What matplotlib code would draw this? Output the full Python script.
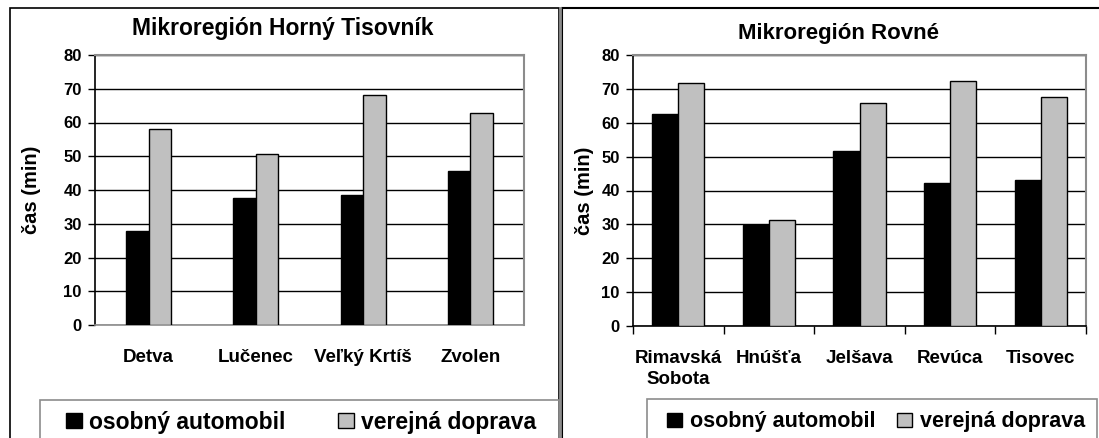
import numpy as np
import matplotlib
matplotlib.use("Agg")
import matplotlib.pyplot as plt
from matplotlib.patches import Rectangle
from matplotlib.lines import Line2D

plt.rcParams['font.family'] = ['Liberation Sans', 'DejaVu Sans']
plt.rcParams['font.weight'] = 'bold'

# data
left_title = 'Mikroregión Horný Tisovník'
left_towns = ['Detva', 'Lučenec', 'Veľký Krtíš', 'Zvolen']
left_car = [28.0, 37.5, 38.5, 45.5]
left_bus = [58.2, 50.6, 68.2, 62.9]

right_title = 'Mikroregión Rovné'
right_towns = ['Rimavská\nSobota', 'Hnúšťa', 'Jelšava', 'Revúca', 'Tisovec']
right_car = [62.5, 29.9, 51.6, 42.2, 43.2]
right_bus = [71.8, 31.2, 65.8, 72.4, 67.6]

series = ['osobný automobil', 'verejná doprava']
yticks = [0, 10, 20, 30, 40, 50, 60, 70, 80]

W, H = 1099, 438
GRAY = '#c0c0c0'
EDGE = '#8c8c8c'


def fx(x):
    return x / W


def fy(y):
    return 1 - y / H


def box(fig, x0, y0, x1, y1, color, lw):
    fig.patches.append(Rectangle((fx(x0), fy(y1)), (x1 - x0) / W, (y1 - y0) / H,
                                 fill=False, edgecolor=color, lw=lw,
                                 transform=fig.transFigure, figure=fig))


def draw_chart(ax, towns, car, bus, width, boundary_ticks):
    x = np.arange(len(towns))
    b1 = ax.bar(x - width / 2, car, width, color='black', edgecolor='black', lw=1, zorder=3)
    b2 = ax.bar(x + width / 2, bus, width, color=GRAY, edgecolor='black', lw=1, zorder=3)
    ax.set_ylim(0, 80)
    ax.set_yticks(yticks)
    ax.set_xlim(-0.5, len(towns) - 0.5)
    ax.set_xticks(x, towns, fontsize=13.5)
    for lab in ax.get_xticklabels():
        lab.set_linespacing(1.35)
    ax.tick_params(axis='x', which='major', length=0, pad=17)
    if boundary_ticks:
        ax.set_xticks(np.arange(-0.5, len(towns)), minor=True)
        ax.tick_params(axis='x', which='minor', length=6, width=1, direction='out')
    ax.tick_params(axis='y', length=5, width=1, labelsize=12, pad=4.5)
    ax.yaxis.grid(True, color='black', lw=1)
    ax.set_axisbelow(True)
    for s in ['top', 'right']:
        ax.spines[s].set_color(EDGE)
        ax.spines[s].set_linewidth(1.5)
    ax.spines['left'].set_color('black')
    ax.spines['left'].set_linewidth(1.2)
    if boundary_ticks:
        ax.spines['bottom'].set_color('black')
    else:
        ax.spines['bottom'].set_color(EDGE)
    ax.spines['bottom'].set_linewidth(1.2)
    ax.set_ylabel('čas (min)', fontsize=14.5, fontweight='bold')
    return b1, b2


fig = plt.figure(figsize=(W / 100, H / 100), dpi=100)

# panel frames
box(fig, 10, 8, 559, 470, 'black', 1.2)
fig.lines.append(Line2D([fx(559.5), fx(559.5)], [fy(8), fy(470)], color=EDGE, lw=2,
                        transform=fig.transFigure))
box(fig, 562, 7.5, 1110, 470, 'black', 1.5)

# left chart
ax1 = fig.add_axes([fx(95), fy(325), (524 - 95) / W, (325 - 55) / H])
h1 = draw_chart(ax1, left_towns, left_car, left_bus, 0.21, False)
ax1.yaxis.set_label_coords(-0.125, 0.5)
fig.text(fx(283), fy(35), left_title, ha='center', va='baseline', fontsize=16.5)

# right chart
ax2 = fig.add_axes([fx(633), fy(326), (1086 - 633) / W, (326 - 55) / H])
h2 = draw_chart(ax2, right_towns, right_car, right_bus, 0.289, True)
ax2.yaxis.set_label_coords(-0.085, 0.5)
fig.text(fx(838), fy(39), right_title, ha='center', va='baseline', fontsize=16)

# legends
box(fig, 40, 400, 559, 470, EDGE, 1.2)
box(fig, 647, 399, 1097, 470, EDGE, 1.2)
ax1.legend(h1, series, ncol=2, frameon=False, fontsize=16.5, loc='center',
           bbox_to_anchor=(fx(301), fy(422)), bbox_transform=fig.transFigure,
           handlelength=0.7, handleheight=0.62, handletextpad=0.3,
           columnspacing=2.3, borderaxespad=0, borderpad=0)
ax2.legend(h2, series, ncol=2, frameon=False, fontsize=15.5, loc='center',
           bbox_to_anchor=(fx(876), fy(422)), bbox_transform=fig.transFigure,
           handlelength=0.72, handleheight=0.65, handletextpad=0.35,
           columnspacing=1.0, borderaxespad=0, borderpad=0)

fig.savefig('out.png', dpi=100)
